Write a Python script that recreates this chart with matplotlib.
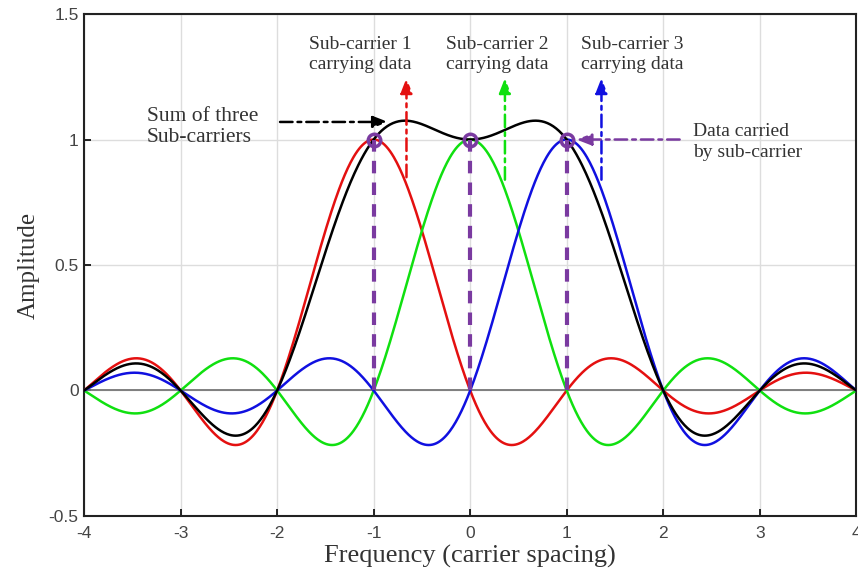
import numpy as np
import matplotlib
matplotlib.use("Agg")
import matplotlib.pyplot as plt

# sub-carrier centres (in carrier spacings) and their colours
centres = [-1, 0, 1]
amplitudes = [1.0, 1.0, 1.0]
colours = ["#e41010", "#10e010", "#1010e0"]
purple = "#7a3aa0"

xticks = [-4, -3, -2, -1, 0, 1, 2, 3, 4]
yticks = [-0.5, 0, 0.5, 1, 1.5]

# each sub-carrier is a sinc pulse
f = np.linspace(-4, 4, 801)
pulses = [a * np.sinc(f - c) for a, c in zip(amplitudes, centres)]
total = np.sum(pulses, axis=0)

serif = ["Liberation Serif", "DejaVu Serif"]
plt.rcParams["font.family"] = ["Liberation Sans", "DejaVu Sans"]

fig = plt.figure(figsize=(8.58, 5.73), dpi=100)
ax = fig.add_axes([0.098, 0.0995, 0.9, 0.876])

ax.axhline(0, color="#777777", lw=1.3, zorder=1)
for p, col in zip(pulses, colours):
    ax.plot(f, p, color=col, lw=1.8, zorder=3)
ax.plot(f, total, color="black", lw=1.8, zorder=4)

# data points carried by each sub-carrier
for c, a in zip(centres, amplitudes):
    ax.plot([c, c], [0, a], color=purple, lw=3, ls=(0, (3, 2.2)), zorder=5)
ax.plot(centres, amplitudes, "o", ms=9, mfc="none", mec=purple, mew=2.5, zorder=6)

def arrow(x0, y0, x1, y1, col, lw=1.8):
    ax.annotate("", xy=(x1, y1), xytext=(x0, y0),
                arrowprops=dict(arrowstyle="-|>,head_length=0.9,head_width=0.35",
                                color=col, lw=lw, ls=(0, (5, 2, 1.5, 2)),
                                shrinkA=0, shrinkB=0),
                zorder=7)

arrow(-1.97, 1.07, -0.85, 1.07, "black")
arrow(-0.66, 0.85, -0.66, 1.245, colours[0])
arrow(0.36, 0.84, 0.36, 1.245, colours[1])
arrow(1.36, 0.84, 1.36, 1.245, colours[2])
arrow(2.17, 1.0, 1.1, 1.0, purple)

tk = dict(fontsize=14, family=serif, color="#333333", linespacing=1.25)
ax.text(-3.35, 1.05, "Sum of three\nSub-carriers", ha="left", va="center",
        **dict(tk, fontsize=15.5, linespacing=1.2))
ax.text(-1.14, 1.34, "Sub-carrier 1\ncarrying data", ha="center", va="center", **tk)
ax.text(0.28, 1.34, "Sub-carrier 2\ncarrying data", ha="center", va="center", **tk)
ax.text(1.68, 1.34, "Sub-carrier 3\ncarrying data", ha="center", va="center", **tk)
ax.text(2.31, 0.99, "Data carried\nby sub-carrier", ha="left", va="center", **tk)

ax.set_xlim(-4, 4)
ax.set_ylim(-0.5, 1.5)
ax.set_xticks(xticks)
ax.set_yticks(yticks)
ax.set_xticklabels([str(t) for t in xticks])
ax.set_yticklabels(["-0.5", "0", "0.5", "1", "1.5"])
ax.tick_params(direction="in", length=5, width=1.2, labelsize=12.5, labelcolor="#444444")
ax.tick_params(axis="x", pad=7)
ax.tick_params(axis="y", pad=4)
ax.grid(True, color="#dddddd", lw=1)
ax.set_axisbelow(True)
for s in ax.spines.values():
    s.set_linewidth(1.5)
    s.set_color("#222222")

ax.set_xlabel("Frequency (carrier spacing)", fontsize=19, family=serif, color="#333333", labelpad=3)
ax.set_ylabel("Amplitude", fontsize=18, family=serif, color="#333333", labelpad=6)

fig.savefig("out.png", dpi=100)
